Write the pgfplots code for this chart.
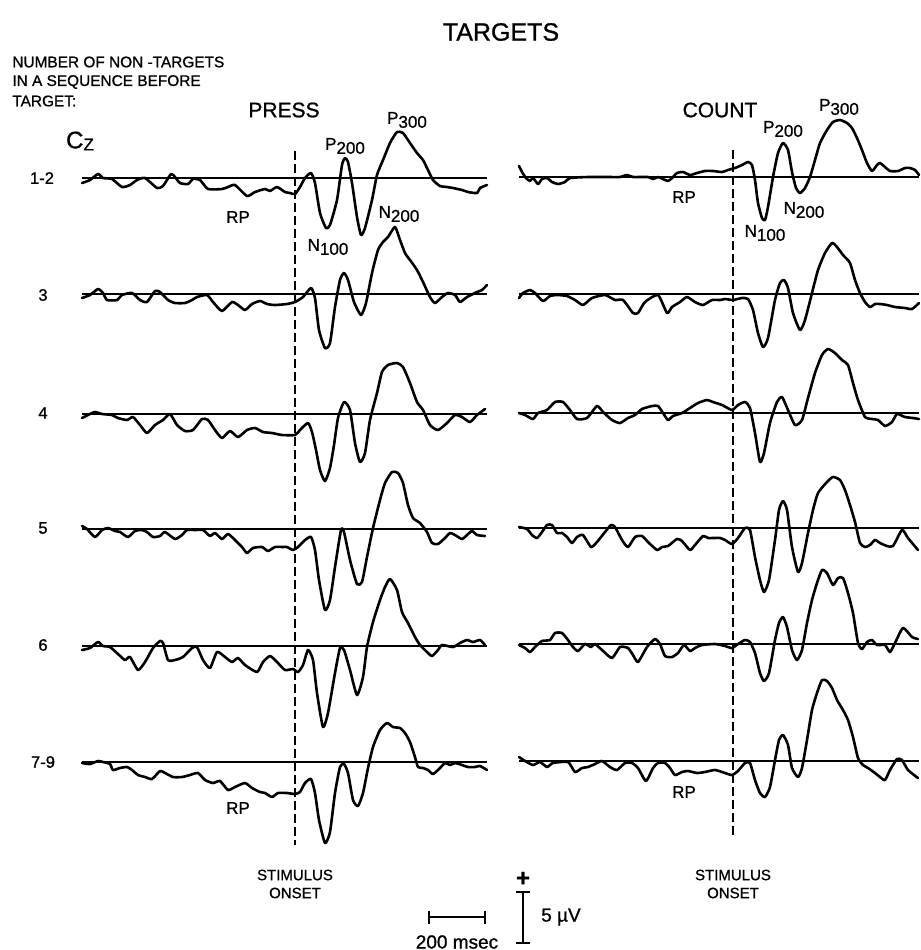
\documentclass[border=0pt]{standalone}
\usepackage{pgfplots}
\pgfplotsset{compat=1.18}
\usepackage{fontspec}
\setmainfont{Liberation Sans}[FakeBold=1.0]
\newcommand{\fsz}[1]{\fontsize{#1}{#1}\selectfont}
\newcommand{\lab}[2]{#1\raisebox{-2pt}{#2}}
\begin{document}
\begin{tikzpicture}
\begin{axis}[
  width=459.5pt, height=475pt, scale only axis,
  xmin=0, xmax=919, ymin=0, ymax=950, y dir=reverse,
  hide axis, clip=false,
  trace/.style={black, line width=1.3pt, smooth, tension=0.35, line join=round, line cap=round},
  base/.style={black, line width=0.95pt},
  onset/.style={black, line width=0.9pt, dash pattern=on 4.5pt off 2pt},
  bar/.style={black, line width=1.2pt},
]
\path (axis cs:0,0) rectangle (axis cs:919,950);
% ---------------- baselines ----------------
\addplot[base] coordinates {(82,178) (487,178)};
\addplot[base] coordinates {(82,294) (487,294)};
\addplot[base] coordinates {(82,414) (487,414)};
\addplot[base] coordinates {(82,529) (487,529)};
\addplot[base] coordinates {(82,646) (487,646)};
\addplot[base] coordinates {(82,762) (487,762)};
\addplot[base] coordinates {(519,177) (919,177)};
\addplot[base] coordinates {(519,294) (919,294)};
\addplot[base] coordinates {(519,413) (919,413)};
\addplot[base] coordinates {(519,528) (919,528)};
\addplot[base] coordinates {(519,644) (919,644)};
\addplot[base] coordinates {(519,761) (919,761)};
% ---------------- stimulus onset ----------------
\addplot[onset] coordinates {(295,151) (295,845)};
\addplot[onset] coordinates {(733,150) (733,838)};
% ---------------- PRESS traces ----------------
\addplot[trace] coordinates {(82,183) (90,180) (98,174) (103,178) (112,179) (122,187) (130,185) (137,180) (145,178) (157,188) (163,186) (171,174) (175,177) (180,183) (188,184) (193,179) (200,180) (208,189) (222,189) (228,187) (235,185) (247,196) (255,192) (265,189) (270,191) (277,187) (285,192) (290,193) (295,194) (300,187) (305,178) (311,173) (315,183) (320,213) (326,228) (330,225) (337,200) (342,165) (345,158) (348,162) (352,183) (357,217) (361,235) (365,228) (372,200) (377,175) (383,160) (390,143) (397,132) (403,133) (410,143) (417,153) (423,160) (428,170) (433,180) (440,186) (447,187) (453,188) (462,190) (468,192) (477,193) (480,188) (487,185)};
\addplot[trace] coordinates {(82,298) (90,295) (98,289) (103,293) (107,300) (117,300) (122,295) (132,293) (140,300) (147,302) (155,291) (160,292) (168,300) (175,303) (185,303) (192,300) (197,297) (207,295) (213,302) (222,311) (232,302) (238,305) (245,310) (252,304) (260,301) (267,304) (275,305) (287,304) (295,302) (303,297) (311,288) (315,298) (319,330) (325,348) (330,343) (335,307) (340,280) (344,273) (348,280) (354,302) (361,315) (366,303) (372,273) (378,250) (383,242) (388,237) (395,227) (400,240) (405,253) (410,260) (417,270) (423,282) (430,297) (435,303) (442,297) (448,293) (455,295) (460,302) (467,297) (477,292) (482,290) (487,285)};
\addplot[trace] coordinates {(82,418) (88,415) (95,412) (102,414) (112,415) (118,418) (127,420) (133,417) (140,425) (147,433) (155,425) (163,420) (170,414) (177,425) (185,431) (193,430) (202,419) (208,420) (215,430) (222,438) (230,431) (238,437) (247,430) (255,428) (263,432) (272,433) (282,435) (295,435) (300,430) (308,423) (312,432) (316,450) (320,470) (325,481) (330,468) (334,445) (338,418) (344,402) (350,410) (355,443) (360,462) (365,453) (370,420) (377,393) (382,372) (388,365) (397,363) (403,367) (410,383) (417,402) (423,410) (430,425) (438,430) (447,423) (455,415) (462,417) (470,422) (477,415) (485,409)};
\addplot[trace] coordinates {(82,526) (87,529) (95,537) (102,530) (108,528) (115,531) (120,532) (128,537) (135,531) (142,530) (147,532) (153,537) (160,536) (165,532) (175,539) (182,535) (187,530) (195,530) (203,530) (210,536) (215,533) (222,539) (228,534) (235,540) (242,547) (247,553) (253,548) (262,547) (268,551) (275,547) (283,547) (287,547) (293,550) (298,547) (305,540) (311,537) (315,550) (319,580) (325,610) (330,600) (335,567) (341,530) (344,532) (350,560) (357,584) (362,582) (367,557) (373,528) (380,500) (385,483) (392,472) (398,473) (403,483) (408,505) (413,518) (420,523) (427,532) (432,543) (438,544) (445,538) (450,533) (455,535) (462,539) (467,535) (472,531) (477,535) (485,536)};
\addplot[trace] coordinates {(82,650) (90,648) (98,642) (103,646) (110,647) (118,654) (125,660) (130,657) (138,670) (145,662) (153,648) (160,641) (163,643) (168,660) (175,660) (183,657) (192,648) (197,647) (203,660) (210,668) (217,652) (225,657) (232,662) (238,658) (245,665) (257,672) (263,662) (270,656) (277,662) (285,670) (293,669) (298,672) (303,665) (308,650) (313,660) (317,693) (323,727) (328,713) (335,673) (340,648) (344,650) (350,670) (357,695) (363,677) (367,647) (373,622) (380,600) (385,587) (390,579) (397,590) (402,612) (408,623) (415,637) (420,645) (427,652) (432,656) (438,650) (442,645) (453,647) (460,643) (467,640) (473,642) (480,640) (485,645)};
\addplot[trace] coordinates {(82,763) (90,764) (98,761) (103,762) (110,764) (113,770) (120,768) (127,767) (132,770) (138,775) (145,777) (152,779) (160,771) (165,773) (173,777) (182,777) (190,775) (198,773) (205,780) (213,783) (220,781) (228,790) (235,787) (245,783) (252,788) (260,792) (265,793) (272,797) (278,793) (287,793) (295,794) (300,792) (305,783) (311,779) (315,793) (319,820) (325,843) (330,832) (335,793) (340,767) (344,764) (348,773) (353,800) (358,806) (363,793) (368,768) (373,747) (380,730) (387,723) (393,727) (400,728) (405,733) (410,742) (415,757) (418,767) (423,768) (428,770) (433,774) (440,768) (445,763) (450,765) (455,763) (462,765) (468,767) (475,767) (480,766) (487,770)};
% ---------------- COUNT traces ----------------
\addplot[trace] coordinates {(519,166) (522,172) (526,178) (530,181) (533,178) (538,184) (542,179) (547,178) (552,182) (558,184) (565,182) (570,178) (588,177) (608,177) (620,177) (627,175) (633,177) (648,177) (653,179) (658,177) (663,179) (668,181) (672,178) (677,173) (683,172) (690,175) (697,173) (705,171) (713,171) (722,172) (728,170) (735,168) (742,165) (748,162) (752,165) (755,180) (758,203) (762,218) (765,220) (768,207) (773,177) (778,153) (783,143) (788,150) (792,172) (796,188) (800,193) (805,188) (810,177) (815,160) (820,143) (827,130) (833,122) (840,120) (847,123) (852,128) (857,138) (862,150) (867,163) (872,171) (877,165) (880,163) (885,167) (890,171) (898,171) (905,168) (910,168) (915,170) (919,175)};
\addplot[trace] coordinates {(519,298) (523,293) (530,290) (535,293) (543,301) (550,296) (557,295) (567,296) (575,300) (583,305) (592,298) (605,295) (615,300) (623,300) (633,313) (638,313) (645,302) (658,295) (667,313) (672,307) (680,302) (687,297) (695,302) (703,305) (712,300) (720,300) (725,299) (733,300) (742,298) (748,299) (753,310) (758,333) (763,347) (768,338) (775,300) (780,283) (784,280) (788,288) (793,313) (800,330) (805,320) (812,293) (818,270) (825,253) (832,243) (837,247) (843,255) (850,263) (855,280) (860,293) (865,302) (870,307) (875,304) (880,304) (887,305) (895,307) (905,308) (912,309) (919,303)};
\addplot[trace] coordinates {(519,413) (525,415) (533,419) (538,413) (547,410) (555,402) (563,402) (570,410) (577,419) (587,418) (597,406) (603,412) (612,420) (620,423) (628,418) (635,415) (642,409) (652,406) (658,406) (663,413) (668,420) (673,416) (682,413) (690,408) (698,403) (707,400) (713,402) (722,405) (732,410) (738,405) (745,402) (750,408) (755,433) (760,462) (764,453) (770,423) (777,402) (782,397) (788,410) (795,425) (802,420) (808,398) (815,373) (822,355) (828,349) (835,353) (842,360) (848,365) (853,383) (858,400) (865,417) (872,419) (878,420) (885,426) (892,422) (897,414) (905,417) (913,418) (919,419)};
\addplot[trace] coordinates {(519,527) (527,529) (532,535) (537,538) (542,532) (547,525) (552,525) (557,533) (562,533) (567,537) (572,543) (577,537) (583,535) (591,547) (597,542) (605,532) (611,525) (615,527) (622,540) (628,547) (635,537) (642,536) (648,542) (657,550) (662,547) (668,546) (677,539) (682,541) (690,550) (695,545) (703,536) (708,538) (713,538) (720,538) (725,540) (732,544) (738,538) (745,528) (750,530) (755,557) (760,580) (764,592) (769,580) (775,540) (779,510) (783,501) (787,510) (792,547) (798,572) (802,563) (808,533) (813,510) (818,493) (827,482) (833,477) (840,480) (845,490) (850,505) (855,522) (860,543) (865,547) (870,545) (875,540) (880,543) (887,546) (893,546) (902,530) (908,538) (918,550)};
\addplot[trace] coordinates {(519,645) (525,648) (530,652) (535,647) (542,641) (550,640) (555,633) (562,633) (568,640) (573,647) (578,651) (585,644) (591,647) (595,644) (602,650) (612,658) (620,647) (628,648) (633,655) (638,662) (647,647) (655,639) (660,644) (665,656) (672,657) (678,653) (684,645) (690,651) (695,648) (702,645) (715,644) (725,646) (732,648) (738,644) (745,640) (750,642) (755,653) (760,673) (764,681) (769,673) (775,640) (779,623) (783,617) (787,627) (792,650) (797,660) (802,650) (807,623) (812,600) (817,583) (822,570) (827,573) (833,585) (838,578) (843,578) (848,593) (853,613) (858,643) (862,649) (867,642) (872,640) (877,645) (885,645) (890,652) (895,643) (903,628) (912,637) (918,639)};
\addplot[trace] coordinates {(519,757) (525,761) (533,765) (540,762) (547,767) (553,763) (568,762) (575,772) (582,768) (588,767) (595,764) (602,761) (610,767) (617,770) (625,763) (632,763) (638,768) (646,781) (653,768) (658,763) (665,763) (670,768) (675,775) (682,772) (688,771) (697,773) (705,772) (715,770) (725,773) (732,775) (738,771) (745,763) (750,763) (755,780) (760,793) (765,797) (770,787) (775,760) (779,740) (783,735) (788,745) (792,768) (798,777) (802,768) (807,740) (812,710) (817,693) (822,680) (827,681) (832,688) (837,700) (843,710) (848,720) (853,737) (858,758) (863,765) (868,768) (875,773) (880,777) (885,780) (890,770) (897,759) (902,760) (908,770) (918,778)};
% ---------------- scale bars ----------------
\addplot[bar] coordinates {(429,917) (485,917)};
\addplot[bar] coordinates {(429,911) (429,924)};
\addplot[bar] coordinates {(485,911) (485,924)};
\addplot[bar] coordinates {(523,892) (523,943)};
\addplot[bar] coordinates {(516,892) (530,892)};
\addplot[bar] coordinates {(516,943) (530,943)};
% ---------------- texts ----------------
\begin{scope}[every node/.style={inner sep=0pt}]
\node[font=\fsz{12.5}] at (axis cs:501,32) {TARGETS};
\node[font=\fsz{7.7}, anchor=west] at (axis cs:12,62) {NUMBER OF NON -TARGETS};
\node[font=\fsz{7.7}, anchor=west] at (axis cs:12,82) {IN A SEQUENCE BEFORE};
\node[font=\fsz{7.7}, anchor=west] at (axis cs:12,101) {TARGET:};
\node[font=\fsz{10.5}] at (axis cs:284,110) {PRESS};
\node[font=\fsz{10.5}] at (axis cs:720,110) {COUNT};
\node[font=\fsz{12}] at (axis cs:80,141) {C\raisebox{-1pt}{\fsz{8.5}Z}};
\node[font=\fsz{8.3}] at (axis cs:42,178) {1-2};
\node[font=\fsz{8.3}] at (axis cs:43,295) {3};
\node[font=\fsz{8.3}] at (axis cs:43,413) {4};
\node[font=\fsz{8.3}] at (axis cs:43,528) {5};
\node[font=\fsz{8.3}] at (axis cs:43,645) {6};
\node[font=\fsz{8.3}] at (axis cs:43,762) {7-9};
% component labels, PRESS
\node[font=\fsz{8.5}] at (axis cs:407,120) {\lab{P}{300}};
\node[font=\fsz{8.5}] at (axis cs:345,146) {\lab{P}{200}};
\node[font=\fsz{8.5}] at (axis cs:399,214) {\lab{N}{200}};
\node[font=\fsz{8.5}] at (axis cs:328,247) {\lab{N}{100}};
\node[font=\fsz{8.5}] at (axis cs:238,217) {RP};
\node[font=\fsz{8.5}] at (axis cs:238,808) {RP};
% component labels, COUNT
\node[font=\fsz{8.5}] at (axis cs:839,107) {\lab{P}{300}};
\node[font=\fsz{8.5}] at (axis cs:783,129) {\lab{P}{200}};
\node[font=\fsz{8.5}] at (axis cs:804,210) {\lab{N}{200}};
\node[font=\fsz{8.5}] at (axis cs:765,233) {\lab{N}{100}};
\node[font=\fsz{8.5}] at (axis cs:684,197) {RP};
\node[font=\fsz{8.5}] at (axis cs:684,792) {RP};
% onset
\node[font=\fsz{7.5}] at (axis cs:295,875) {STIMULUS};
\node[font=\fsz{7.5}] at (axis cs:295,893) {ONSET};
\node[font=\fsz{7.5}] at (axis cs:733,875) {STIMULUS};
\node[font=\fsz{7.5}] at (axis cs:733,893) {ONSET};
% scale
\node[font=\fsz{9.5}] at (axis cs:457,942) {200 msec};
\node[font=\fsz{9.5}] at (axis cs:561,917) {5 µV};
\node[font=\bfseries\fsz{12}] at (axis cs:523,879) {+};
\end{scope}
\end{axis}
\end{tikzpicture}
\end{document}
